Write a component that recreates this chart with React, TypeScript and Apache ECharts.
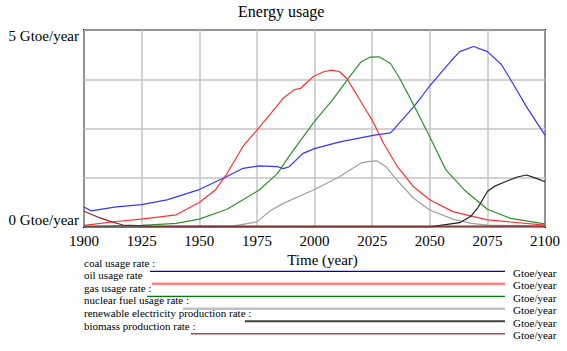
import React, { useEffect, useRef } from "react";
import * as echarts from "echarts";

const title = "Energy usage";
const xTicks = [1900, 1925, 1950, 1975, 2000, 2025, 2050, 2075, 2100];
const unit = "Gtoe/year";

const coalYears = [1900, 1903, 1914, 1925, 1936, 1950, 1962, 1969, 1976, 1984, 1986.5, 1989, 1995, 2000, 2011, 2026, 2033, 2043, 2047, 2050, 2059, 2063, 2069, 2075, 2081, 2086, 2092, 2100];
const coalValues = [0.51, 0.41, 0.51, 0.57, 0.69, 0.95, 1.28, 1.49, 1.55, 1.53, 1.48, 1.53, 1.87, 1.99, 2.16, 2.33, 2.39, 3.05, 3.35, 3.58, 4.2, 4.45, 4.58, 4.45, 4.13, 3.65, 3.05, 2.33];

const oilYears = [1900, 1914, 1925, 1940, 1950, 1957, 1962, 1965, 1969, 1975, 1981, 1986.5, 1991, 1994, 1999.5, 2004, 2007.5, 2011, 2014, 2018, 2022.5, 2025, 2030, 2036, 2043, 2050, 2060, 2075, 2100];
const oilValues = [0.04, 0.14, 0.2, 0.31, 0.62, 0.94, 1.35, 1.65, 2.05, 2.46, 2.88, 3.27, 3.48, 3.52, 3.82, 3.94, 3.98, 3.94, 3.77, 3.39, 2.95, 2.72, 2.12, 1.53, 1.02, 0.69, 0.39, 0.18, 0.05];

const gasYears = [1900, 1925, 1940, 1950, 1962, 1969, 1976, 1984, 1989, 2000, 2008, 2015, 2020, 2024, 2028, 2033, 2037, 2043, 2050, 2057, 2065, 2075, 2085, 2100];
const gasValues = [0.02, 0.04, 0.09, 0.2, 0.45, 0.69, 0.94, 1.36, 1.8, 2.68, 3.24, 3.8, 4.18, 4.31, 4.32, 4.15, 3.77, 3.1, 2.29, 1.45, 0.94, 0.45, 0.22, 0.08];

const nuclearYears = [1900, 1965, 1975, 1981, 1986.5, 2000, 2011, 2020, 2023, 2027, 2031, 2037, 2043, 2050, 2060, 2068, 2075, 2100];
const nuclearValues = [0, 0.03, 0.13, 0.42, 0.6, 0.95, 1.28, 1.62, 1.66, 1.68, 1.53, 1.11, 0.73, 0.43, 0.2, 0.09, 0.05, 0.02];

const renewableYears = [1900, 2050, 2053, 2063, 2068, 2071, 2075, 2078, 2082, 2088, 2092, 2096, 2100];
const renewableValues = [0, 0, 0.03, 0.11, 0.28, 0.5, 0.9, 1.03, 1.13, 1.27, 1.32, 1.24, 1.15];

const biomassYears = [1900, 1907, 1912, 1917, 1930, 2100];
const biomassValues = [0.4, 0.23, 0.13, 0.05, 0.02, 0.02];

const seriesNames = [
  "coal usage rate :",
  "oil usage rate",
  "gas usage rate :",
  "nuclear fuel usage rate :",
  "renewable electricity production rate :",
  "biomass production rate :",
];

const FONT = "Liberation Serif";

function pairs(xs: number[], ys: number[]) {
  return xs.map((x, i) => [x, ys[i]]);
}

export default function App() {
  const ref = useRef<HTMLDivElement>(null);
  useEffect(() => {
    if (!ref.current) return;
    const chart = echarts.init(ref.current, undefined, { renderer: "svg" });

    const chartColors = ["#3535ff", "#ff3030", "#2e922e", "#a0a0a0", "#202020", "#8b2525"];
    const legendColors = ["#0000c8", "#ff8080", "#008000", "#c0c0c0", "#404040", "#b04848"];
    const legendWidths = [1.3, 2.5, 1.3, 2.5, 2, 1.5];
    const legendLineStart = [150, 152, 147, 183, 245, 191];
    const dataSets = [
      pairs(coalYears, coalValues),
      pairs(oilYears, oilValues),
      pairs(gasYears, gasValues),
      pairs(nuclearYears, nuclearValues),
      pairs(renewableYears, renewableValues),
      pairs(biomassYears, biomassValues),
    ];

    const graphics: any[] = [];
    seriesNames.forEach((name, i) => {
      graphics.push({
        type: "text",
        x: 84,
        y: 262.5 + i * 12.6,
        style: {
          text: name,
          fontFamily: FONT,
          fontSize: 11,
          fill: "#000",
          verticalAlign: "middle",
        },
      });
      graphics.push({
        type: "line",
        shape: { x1: legendLineStart[i], y1: 271.3 + i * 12.5, x2: 505, y2: 271.3 + i * 12.5 },
        style: { stroke: legendColors[i], lineWidth: legendWidths[i] },
      });
      graphics.push({
        type: "text",
        x: 513,
        y: 272.7 + i * 12.5,
        style: {
          text: unit,
          fontFamily: FONT,
          fontSize: 11,
          fill: "#000",
          verticalAlign: "middle",
        },
      });
    });

    chart.setOption({
      animation: false,
      backgroundColor: "#fff",
      title: {
        text: title,
        left: 238,
        top: 3,
        padding: 0,
        textStyle: { fontFamily: FONT, fontSize: 16, fontWeight: "normal", color: "#000" },
      },
      grid: {
        left: 84,
        right: 22,
        top: 30,
        bottom: 124,
        show: true,
        borderColor: "#000",
        borderWidth: 2,
        containLabel: false,
      },
      xAxis: {
        type: "value",
        min: 1900,
        max: 2100,
        interval: 25,
        name: "Time (year)",
        nameLocation: "middle",
        nameGap: 18,
        nameTextStyle: { fontFamily: FONT, fontSize: 15, color: "#000", padding: [0, 0, 0, 16] },
        axisLine: { show: false },
        axisTick: { show: false },
        splitLine: { show: true, lineStyle: { color: "#c4c4c4", width: 1.5 } },
        axisLabel: {
          fontFamily: FONT,
          fontSize: 15,
          color: "#000",
          margin: 6,
          formatter: (v: number) => (xTicks.includes(v) ? String(v) : ""),
        },
      },
      yAxis: {
        type: "value",
        min: 0,
        max: 5,
        interval: 1.25,
        axisLine: { show: false },
        axisTick: { show: false },
        splitLine: { show: true, lineStyle: { color: "#c4c4c4", width: 1.5 } },
        axisLabel: {
          fontFamily: FONT,
          fontSize: 15,
          color: "#000",
          margin: 5,
          verticalAlignMinLabel: "bottom",
          formatter: (v: number) =>
            v === 5 ? `{mx|${v} ${unit}}` : v === 0 ? `${v} ${unit}` : "",
          rich: {
            mx: { fontFamily: FONT, fontSize: 15, color: "#000", padding: [12, 0, 0, 0] },
          },
        },
      },
      series: dataSets.map((d, i) => ({
        name: seriesNames[i],
        type: "line",
        data: d,
        showSymbol: false,
        symbol: "none",
        smooth: false,
        lineStyle: { color: chartColors[i], width: 1.2 },
        itemStyle: { color: chartColors[i] },
        z: 3 + i,
      })),
      graphic: graphics,
    });
    return () => chart.dispose();
  }, []);
  return (
    <div
      ref={ref}
      style={{ position: "absolute", left: 0, top: 0, width: 567, height: 351 }}
    />
  );
}
